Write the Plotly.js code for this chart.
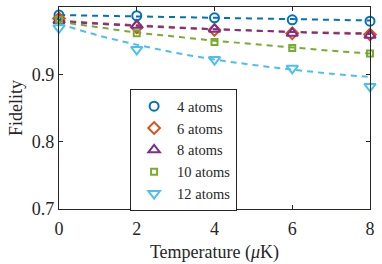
<!DOCTYPE html>
<html><head><meta charset="utf-8">
<script src="https://cdn.plot.ly/plotly-3.0.1.min.js"></script>
<style>html,body{margin:0;padding:0;background:#fff}#c{width:382px;height:264px}</style>
</head><body><div id="c"></div>
<script>
const temps = [0, 2, 4, 6, 8];
const fitT = [0, 1, 2, 3, 4, 5, 6, 7, 8];
const names = ['4 atoms', '6 atoms', '8 atoms', '10 atoms', '12 atoms'];
const data4 = [0.988, 0.987, 0.984, 0.981, 0.979];
const data6 = [0.983, 0.970, 0.966, 0.961, 0.959];
const data8 = [0.980, 0.973, 0.967, 0.961, 0.958];
const data10 = [0.981, 0.961, 0.948, 0.939, 0.931];
const data12 = [0.969, 0.937, 0.922, 0.909, 0.882];
const fit4 = [0.988, 0.987, 0.986, 0.985, 0.984, 0.983, 0.982, 0.981, 0.980];
const fit6 = [0.980, 0.976, 0.973, 0.970, 0.967, 0.965, 0.963, 0.962, 0.961];
const fit8 = [0.979, 0.975, 0.972, 0.969, 0.967, 0.965, 0.963, 0.961, 0.960];
const fit10 = [0.978, 0.970, 0.962, 0.956, 0.950, 0.945, 0.940, 0.935, 0.931];
const fit12 = [0.975, 0.958, 0.944, 0.932, 0.922, 0.914, 0.907, 0.901, 0.896];

const colors = ['#0072BD', '#D95319', '#7E2F8E', '#77AC30', '#4DBEEE'];
const symbols = ['circle-open', 'diamond-open', 'triangle-up-open', 'square-open', 'triangle-down-open'];
const sizes = [9, 9, 10, 6, 10];
const dataSets = [data4, data6, data8, data10, data12];
const fits = [fit4, fit6, fit8, fit10, fit12];

const traces = [];
fits.forEach((f, i) => traces.push({
  x: fitT, y: f, mode: 'lines', line: {color: colors[i], width: 2, dash: '6px,5px', shape: 'spline'},
  showlegend: false, hoverinfo: 'skip'
}));
dataSets.forEach((d, i) => traces.push({
  x: temps, y: d, mode: 'markers', name: names[i],
  marker: {symbol: symbols[i], size: sizes[i], color: colors[i], line: {width: 2, color: colors[i]}},
  cliponaxis: false
}));

const fontFam = 'Liberation Serif, serif';
const axisCommon = {
  showline: true, mirror: 'ticks', linecolor: '#262626', linewidth: 1.2,
  ticks: 'inside', ticklen: 4, tickcolor: '#262626', showgrid: false, zeroline: false,
  tickfont: {family: fontFam, size: 18, color: '#262626'}
};
const layout = {
  width: 382, height: 264,
  margin: {l: 59, r: 12, t: 7, b: 55},
  paper_bgcolor: '#fff', plot_bgcolor: '#fff',
  xaxis: Object.assign({}, axisCommon, {range: [0, 8], tickvals: [0, 2, 4, 6, 8], ticklabelstandoff: 3,
    title: {text: 'Temperature (<i>μ</i>K)', standoff: 7, font: {family: fontFam, size: 18, color: '#262626'}}}),
  yaxis: Object.assign({}, axisCommon, {range: [0.7, 1], tickvals: [0.7, 0.8, 0.9, 1], ticktext: ['0.7', '0.8', '0.9', '1'],
    title: {text: 'Fidelity', standoff: 4, font: {family: fontFam, size: 18, color: '#262626'}}}),
  legend: {x: 0.228, y: 0.594, xanchor: 'left', yanchor: 'top', bgcolor: '#fff',
    bordercolor: '#262626', borderwidth: 1.2, tracegroupgap: 0, itemwidth: 36,
    font: {family: fontFam, size: 14.5, color: '#262626'}},
  showlegend: true
};
Plotly.newPlot('c', traces, layout, {staticPlot: true});
</script></body></html>
